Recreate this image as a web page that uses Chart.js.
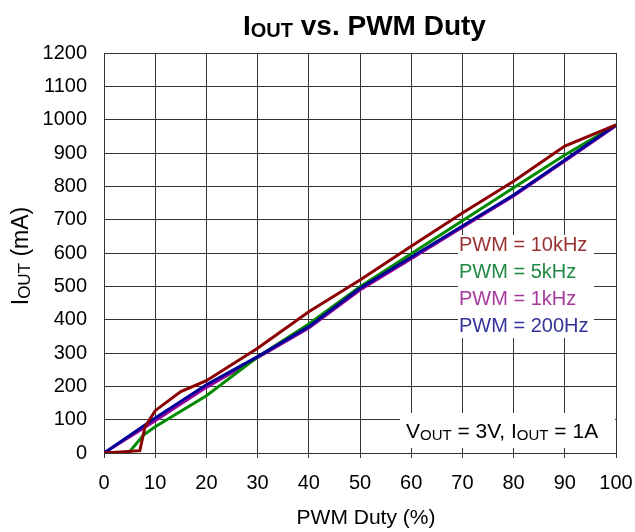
<!DOCTYPE html>
<html><head><meta charset="utf-8">
<script src="https://cdn.jsdelivr.net/npm/chart.js@4.4.1/dist/chart.umd.min.js"></script>
<style>html,body{margin:0;padding:0;background:#fff;}canvas{display:block;}</style>
</head><body>
<canvas id="c" width="635" height="532"></canvas>
<script>
// ---- data ----
const xTickValues = [0,10,20,30,40,50,60,70,80,90,100];
const yTickValues = [0,100,200,300,400,500,600,700,800,900,1000,1100,1200];

const duty10k  = [0, 7, 8, 10, 15, 20, 30, 40, 50, 60, 70, 80, 90, 100];
const iout10k  = [0, 7, 78, 127, 184, 217, 314, 424, 519, 620, 720, 815, 921, 984];

const duty5k   = [0, 4.8, 7.7, 10, 20, 30, 40, 50, 60, 70, 80, 90, 100];
const iout5k   = [0, 0, 54, 79, 172, 288, 387, 499, 598, 697, 796, 894, 984];

const duty1k   = [0, 8, 10, 20, 30, 40, 50, 60, 70, 80, 90, 100];
const iout1k   = [0, 77, 97, 197, 286, 375, 489, 583, 677, 771, 876, 982];

const duty200  = [0, 10, 20, 30, 40, 50, 60, 70, 80, 90, 100];
const iout200  = [0, 105, 205, 289, 379, 494, 587, 681, 774, 879, 984];

const seriesNames = ['PWM = 10kHz', 'PWM = 5kHz', 'PWM = 1kHz', 'PWM = 200Hz'];

const FONT = '"Liberation Sans", Arial, sans-serif';

function pts(xs, ys){ return xs.map((x,i)=>({x:x, y:ys[i]})); }

function drawRich(ctx, parts, x, y, size, subSize, weight, color){
  ctx.fillStyle = color;
  ctx.textBaseline = 'alphabetic';
  ctx.textAlign = 'left';
  let cx = x;
  for (const p of parts){
    const s = p.sub ? subSize : size;
    ctx.font = weight + ' ' + s + 'px ' + FONT;
    ctx.fillText(p.t, cx, y + (p.sub ? 2 : 0));
    cx += ctx.measureText(p.t).width;
  }
  return cx - x;
}
function richWidth(ctx, parts, size, subSize, weight){
  let w = 0;
  for (const p of parts){
    ctx.font = weight + ' ' + (p.sub ? subSize : size) + 'px ' + FONT;
    w += ctx.measureText(p.t).width;
  }
  return w;
}

const legendColors = ['#993333', '#1f8a43', '#a33a9c', '#333399'];

const textPlugin = {
  id: 'textPlugin',
  afterDatasetsDraw(chart){
    const ctx = chart.ctx;
    ctx.save();
    // legend box
    ctx.fillStyle = '#fff';
    ctx.fillRect(458, 235, 136, 103);
    ctx.font = '20px ' + FONT;
    ctx.textAlign = 'left';
    ctx.textBaseline = 'middle';
    const ys = [245, 272, 299, 326];
    seriesNames.forEach((n,i)=>{
      ctx.fillStyle = legendColors[i];
      ctx.fillText(n, 459, ys[i]);
    });
    // annotation box
    ctx.fillStyle = '#fff';
    ctx.fillRect(400, 413, 215, 35);
    const parts = [{t:'V'},{t:'OUT',sub:true},{t:' = 3V, I'},{t:'OUT',sub:true},{t:' = 1A'}];
    drawRich(ctx, parts, 406, 438, 21, 15, 'normal', '#000');
    ctx.restore();
  },
  afterDraw(chart){
    const ctx = chart.ctx;
    ctx.save();
    // chart title
    const tparts = [{t:'I'},{t:'OUT',sub:true},{t:' vs. PWM Duty'}];
    drawRich(ctx, tparts, 243, 35, 28, 20, 'bold', '#000');
    // x title
    ctx.font = '21px ' + FONT;
    ctx.fillStyle = '#000';
    ctx.textAlign = 'center';
    ctx.textBaseline = 'middle';
    ctx.fillText('PWM Duty (%)', 366, 518);
    // y title
    const yparts = [{t:'I'},{t:'OUT',sub:true},{t:' (mA)'}];
    const w = richWidth(ctx, yparts, 23, 17, 'normal');
    ctx.translate(28, 256);
    ctx.rotate(-Math.PI/2);
    drawRich(ctx, yparts, -w/2, 0, 23, 17, 'normal', '#000');
    ctx.restore();
  }
};

const lineColors = ['#8b0000', '#008a00', '#990099', '#000099'];
const allData = [pts(duty10k,iout10k), pts(duty5k,iout5k), pts(duty1k,iout1k), pts(duty200,iout200)];
const orders = [0, 2, 3, 1];

new Chart(document.getElementById('c'), {
  type: 'line',
  data: {
    datasets: allData.map((d,i)=>({
      label: seriesNames[i],
      data: d,
      borderColor: lineColors[i],
      backgroundColor: lineColors[i],
      borderWidth: 3,
      pointRadius: 0,
      tension: 0,
      fill: false,
      order: orders[i]
    }))
  },
  options: {
    responsive: false,
    animation: false,
    devicePixelRatio: 1,
    layout: { padding: { left: 0, right: 19, top: 53, bottom: 0 } },
    plugins: { legend: { display: false }, title: { display: false }, tooltip: { enabled: false } },
    scales: {
      x: {
        type: 'linear', min: 0, max: 100,
        afterBuildTicks: (s)=>{ s.ticks = xTickValues.map(v=>({value:v})); },
        afterFit: (s)=>{ s.height = 79; s.paddingLeft = 0; s.paddingRight = 0; },
        grid: { color: '#333', lineWidth: 1, drawTicks: true, tickLength: 5, tickColor: '#333' },
        border: { display: true, color: '#333', width: 1 },
        ticks: { color: '#000', font: { family: FONT, size: 20 }, padding: 13, maxRotation: 0,
                 callback: (v)=>String(v) }
      },
      y: {
        type: 'linear', min: 0, max: 1200,
        afterBuildTicks: (s)=>{ s.ticks = yTickValues.map(v=>({value:v})); },
        afterFit: (s)=>{ s.width = 104; s.paddingTop = 0; s.paddingBottom = 0; },
        grid: { color: '#333', lineWidth: 1, drawTicks: false },
        border: { display: true, color: '#333', width: 1 },
        ticks: { color: '#000', font: { family: FONT, size: 20 }, padding: 17,
                 callback: (v)=>String(v) }
      }
    }
  },
  plugins: [textPlugin]
});
</script>
</body></html>
